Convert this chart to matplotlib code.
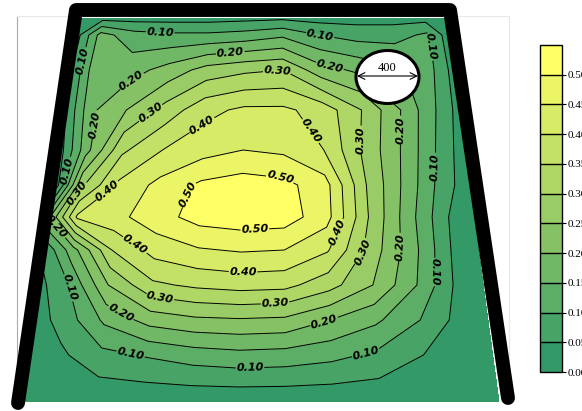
import numpy as np
import matplotlib.pyplot as plt
from matplotlib.colors import ListedColormap
from matplotlib.patches import Ellipse

# measuring rows (height above floor) and relative position across the section
heights = [384, 367, 332, 292, 252, 217, 185, 152, 117, 82, 47, 0]
across = [0, 0.06, 0.15, 0.25, 0.35, 0.45, 0.55, 0.65, 0.75, 0.85, 0.94, 1.0]

# section outline (floor and top corners of the wetted area)
floor_x = [8, 482]
top_x = [64, 430]
top_y = 384

# measured values, rows top -> bottom
values = np.array([
    [0.02, 0.03, 0.03, 0.03, 0.03, 0.035, 0.04, 0.03, 0.03, 0.03, 0.03, 0.02],
    [0.04, 0.17, 0.12, 0.11, 0.11, 0.12, 0.14, 0.10, 0.08, 0.08, 0.11, 0.02],
    [0.06, 0.19, 0.18, 0.22, 0.27, 0.29, 0.30, 0.22, 0.19, 0.16, 0.11, 0.03],
    [0.06, 0.19, 0.25, 0.32, 0.385, 0.41, 0.41, 0.38, 0.30, 0.20, 0.10, 0.03],
    [0.04, 0.18, 0.34, 0.40, 0.43, 0.45, 0.44, 0.40, 0.29, 0.19, 0.085, 0.02],
    [0.03, 0.29, 0.41, 0.465, 0.51, 0.525, 0.515, 0.47, 0.30, 0.18, 0.07, 0.02],
    [0.22, 0.41, 0.435, 0.48, 0.52, 0.53, 0.525, 0.47, 0.30, 0.165, 0.05, 0.02],
    [0.07, 0.18, 0.35, 0.42, 0.445, 0.455, 0.45, 0.405, 0.28, 0.165, 0.045, 0.02],
    [0.04, 0.10, 0.25, 0.34, 0.36, 0.37, 0.365, 0.32, 0.25, 0.15, 0.04, 0.02],
    [0.03, 0.07, 0.16, 0.22, 0.24, 0.245, 0.24, 0.20, 0.16, 0.10, 0.03, 0.02],
    [0.02, 0.04, 0.085, 0.105, 0.125, 0.135, 0.13, 0.115, 0.09, 0.05, 0.02, 0.01],
    [0.01, 0.01, 0.01, 0.01, 0.01, 0.01, 0.01, 0.01, 0.01, 0.01, 0.01, 0.01],
])

levels = [0.00, 0.05, 0.10, 0.15, 0.20, 0.25, 0.30, 0.35, 0.40, 0.45, 0.50, 0.55]
plain_levels = [0.05, 0.15, 0.25, 0.35, 0.45]
cbar_ticks = [0.00, 0.05, 0.10, 0.15, 0.20, 0.25, 0.30, 0.35, 0.40, 0.45, 0.50]
pipe_label = "400"

# grid following the sloped walls
hh = np.array(heights, dtype=float)
left = np.interp(hh, [0, top_y], [floor_x[0], top_x[0]])
right = np.interp(hh, [0, top_y], [floor_x[1], top_x[1]])
X = left[:, None] + np.array(across)[None, :] * (right - left)[:, None]
Y = np.repeat(hh[:, None], len(across), axis=1)

cmap = ListedColormap(plt.cm.summer(np.linspace(0.2, 1.0, len(levels) - 1)))

fig = plt.figure(figsize=(5.82, 4.11), dpi=100)
ax = fig.add_axes([17 / 582, 9 / 411, 492 / 582, 386 / 411])
ax.set_xlim(0, 492)
ax.set_ylim(0, 386)
ax.set_xticks([])
ax.set_yticks([])
ax.spines['left'].set_color('#aaaaaa')
ax.spines['top'].set_color('#e8e8e8')
ax.spines['right'].set_color('#e8e8e8')
ax.spines['bottom'].set_visible(False)

cf = ax.contourf(X, Y, values, levels=levels, cmap=cmap)
ax.contour(X, Y, values, levels=plain_levels, colors='k', linewidths=0.7)

# label spots
spots = {
    0.10: [(143, 367), (303, 366), (61, 342), (426, 357), (48, 232), (423, 235),
           (420, 130), (43, 112), (113, 45), (233, 34), (348, 52)],
    0.20: [(213, 354), (313, 337), (101, 345), (81, 277), (385, 272), (41, 177),
           (388, 155), (101, 84), (308, 77)],
    0.30: [(260, 335), (130, 294), (346, 262), (60, 209), (346, 150), (143, 104),
           (258, 100)],
    0.40: [(183, 280), (291, 269), (90, 212), (320, 170), (113, 150), (226, 129)],
    0.50: [(161, 212), (263, 222), (238, 170)],
}
for lev, pts in spots.items():
    cs = ax.contour(X, Y, values, levels=[lev], colors='k', linewidths=0.7)
    texts = cs.clabel(fmt='%.2f', fontsize=8, inline=True, inline_spacing=2,
                      manual=pts)
    for t in texts:
        t.set_fontweight('bold')
        t.set_fontstyle('italic')

# walls
ax.plot([1, 59, 433, 491], [-1, 392, 392, 4], color='k', lw=10,
        solid_capstyle='round', solid_joinstyle='round', clip_on=False, zorder=5)

# pipe
ax.add_patch(Ellipse((370.5, 325), 63, 53, fc='white', ec='k', lw=2.2, zorder=6))
ax.annotate('', xy=(340, 326), xytext=(401, 326), zorder=7,
            arrowprops=dict(arrowstyle='<->', lw=0.8, color='k', mutation_scale=12,
                            shrinkA=0, shrinkB=0))
ax.text(370.5, 334, pipe_label, ha='center', va='center', fontsize=9,
        family='Liberation Serif', zorder=7)

cax = fig.add_axes([540 / 582, 39 / 411, 22 / 582, 327 / 411])
cb = fig.colorbar(cf, cax=cax, ticks=cbar_ticks, drawedges=True, format='%.2f')
cb.outline.set_linewidth(1)
cb.dividers.set_linewidth(1)
cax.tick_params(labelsize=8, length=3, width=0.8, pad=1)
for t in cax.get_yticklabels():
    t.set_family('Liberation Serif')

fig.savefig('out.png', dpi=100)
